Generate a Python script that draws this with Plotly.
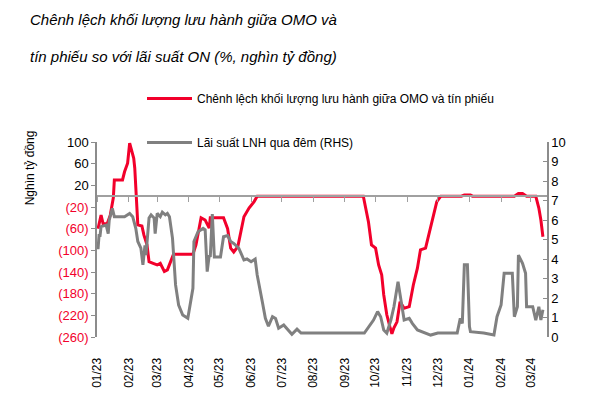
import plotly.graph_objects as go

# ---- data ----
red_dates = ["2023-01-02", "2023-01-05", "2023-01-07", "2023-01-11", "2023-01-14", "2023-01-17",
             "2023-01-18", "2023-01-26", "2023-01-28", "2023-01-31", "2023-02-02", "2023-02-06",
             "2023-02-07", "2023-02-10", "2023-02-14", "2023-02-16", "2023-02-19", "2023-02-21",
             "2023-02-25", "2023-03-01", "2023-03-04", "2023-03-08", "2023-03-11", "2023-03-14",
             "2023-03-17", "2023-04-05", "2023-04-08", "2023-04-13", "2023-04-17", "2023-04-21",
             "2023-04-22", "2023-05-05", "2023-05-09", "2023-05-12", "2023-05-15", "2023-05-19",
             "2023-05-22", "2023-05-25", "2023-05-30", "2023-06-04", "2023-06-07", "2023-09-19",
             "2023-09-21", "2023-09-24", "2023-09-27", "2023-10-01", "2023-10-04", "2023-10-07",
             "2023-10-09", "2023-10-12", "2023-10-15", "2023-10-17", "2023-10-19", "2023-10-22",
             "2023-10-25", "2023-10-29", "2023-11-03", "2023-11-07", "2023-11-11", "2023-11-14",
             "2023-11-19", "2023-11-22", "2023-11-27", "2023-11-30", "2023-12-04", "2023-12-24",
             "2023-12-27", "2024-01-02", "2024-01-04", "2024-02-14", "2024-02-18", "2024-02-22",
             "2024-02-26", "2024-03-06", "2024-03-09", "2024-03-11", "2024-03-13"]
red_values = [-60, -35, -51, -51, -35, -3,
              30, 30, 45, 61, 98, 70,
              52, -53, -55, -72, -90, -121,
              -124, -127, -124, -139, -136, -121,
              -107, -107, -90, -40, -44, -59,
              -40, -40, -60, -96, -103, -93,
              -68, -38, -22, -10, 0, 0,
              -19, -47, -90, -96, -127, -145,
              -182, -219, -241, -254, -243, -232,
              -195, -207, -204, -164, -133, -99,
              -96, -72, -35, -10, 0, 0,
              2, 2, 0, 0, 5, 5,
              0, 0, -22, -44, -75]

gray_dates = ["2023-01-02", "2023-01-03", "2023-01-04", "2023-01-05", "2023-01-10", "2023-01-12",
              "2023-01-13", "2023-01-16", "2023-01-18", "2023-01-28", "2023-02-02", "2023-02-05",
              "2023-02-08", "2023-02-10", "2023-02-13", "2023-02-15", "2023-02-17", "2023-02-18",
              "2023-02-21", "2023-02-23", "2023-02-26", "2023-02-27", "2023-03-01", "2023-03-04",
              "2023-03-06", "2023-03-09", "2023-03-11", "2023-03-13", "2023-03-16", "2023-03-19",
              "2023-03-22", "2023-03-26", "2023-03-31", "2023-04-05", "2023-04-06", "2023-04-10",
              "2023-04-15", "2023-04-17", "2023-04-19", "2023-04-21", "2023-04-22", "2023-04-24",
              "2023-04-26", "2023-05-02", "2023-05-05", "2023-05-09", "2023-05-12", "2023-05-15",
              "2023-05-20", "2023-05-25", "2023-05-28", "2023-06-01", "2023-06-05", "2023-06-07",
              "2023-06-12", "2023-06-15", "2023-06-18", "2023-06-22", "2023-06-25", "2023-06-28",
              "2023-07-03", "2023-07-07", "2023-07-11", "2023-07-16", "2023-07-20", "2023-09-20",
              "2023-09-29", "2023-10-03", "2023-10-06", "2023-10-09", "2023-10-12", "2023-10-16",
              "2023-10-19", "2023-10-23", "2023-10-26", "2023-10-29", "2023-11-03", "2023-11-06",
              "2023-11-11", "2023-11-18", "2023-11-24", "2023-12-01", "2023-12-20", "2023-12-23",
              "2023-12-25", "2023-12-27", "2023-12-30", "2024-01-01", "2024-01-02", "2024-01-15",
              "2024-01-25", "2024-01-28", "2024-02-01", "2024-02-04", "2024-02-12", "2024-02-14",
              "2024-02-17", "2024-02-18", "2024-02-22", "2024-02-25", "2024-02-26", "2024-03-03",
              "2024-03-06", "2024-03-09", "2024-03-11", "2024-03-13"]
gray_values = [4.5, 5.2, 5.2, 5.66, 5.74, 5.3,
               6.0, 6.6, 6.17, 6.17, 6.34, 6.17,
               5.57, 4.9, 4.56, 3.7, 4.7, 4.2,
               6.1, 6.26, 6.1, 5.3, 6.34, 6.17,
               6.4, 6.26, 6.34, 6.17, 5.06, 2.67,
               1.64, 1.13, 0.96, 2.5, 4.9, 5.4,
               5.57, 5.5, 3.35, 4.2, 4.1, 6.3,
               4.1, 4.1, 5.14, 5.2, 4.9, 4.8,
               4.55, 3.95, 4.0, 3.86, 4.0, 3.18,
               1.81, 0.96, 0.55, 1.04, 0.95, 0.45,
               0.62, 0.36, 0.14, 0.4, 0.2, 0.2,
               0.87, 1.3, 1.04, 0.36, 0.2, 0.87,
               1.55, 2.84, 1.9, 0.87, 0.96, 0.7,
               0.36, 0.2, 0.1, 0.2, 0.2, 0.96,
               0.7, 3.7, 3.7, 0.53, 0.27, 0.2,
               0.1, 1.04, 1.64, 3.27, 3.27, 1.04,
               1.55, 4.2, 3.78, 3.27, 1.55, 1.55,
               0.87, 1.55, 0.87, 1.4]

month_ticks = ["2023-01-01", "2023-02-01", "2023-03-01", "2023-04-01", "2023-05-01", "2023-06-01",
               "2023-07-01", "2023-08-01", "2023-09-01", "2023-10-01", "2023-11-01", "2023-12-01",
               "2024-01-01", "2024-02-01", "2024-03-01"]
month_labels = ["01/23", "02/23", "03/23", "04/23", "05/23", "06/23", "07/23", "08/23",
                "09/23", "10/23", "11/23", "12/23", "01/24", "02/24", "03/24"]

left_ticks = [100, 60, 20, -20, -60, -100, -140, -180, -220, -260]
left_labels = ["100", "60", "20", "(20)", "(60)", "(100)", "(140)", "(180)", "(220)", "(260)"]
right_ticks = [0, 1, 2, 3, 4, 5, 6, 7, 8, 9, 10]

x_range = ["2023-01-01", "2024-03-17"]

name_red = "Chênh lệch khối lượng lưu hành giữa OMO và tín phiếu"
name_gray = "Lãi suất LNH qua đêm (RHS)"
title_1 = "Chênh lệch khối lượng lưu hành giữa OMO và"
title_2 = "tín phiếu so với lãi suất ON (%, nghìn tỷ đồng)"
y_title = "Nghìn tỷ đồng"

RED = "#F2002B"
GRAY = "#808080"
AXIS = "#8C8C8C"
FONT = "Liberation Sans, Arial, sans-serif"
TITLE_FONT = "Liberation Sans Narrow, Arial Narrow, Liberation Sans, sans-serif"

left_text = [
    (f"<span style='color:{RED}'>{t}</span>" if v < 0 else t)
    for v, t in zip(left_ticks, left_labels)
]

fig = go.Figure()
fig.add_trace(go.Scatter(x=red_dates, y=red_values, name=name_red, mode="lines",
                         line=dict(color=RED, width=3), legendgroup="a",
                         xaxis="x", yaxis="y"))
fig.add_trace(go.Scatter(x=gray_dates, y=gray_values, name=name_gray, mode="lines",
                         line=dict(color=GRAY, width=3), legendgroup="b",
                         xaxis="x", yaxis="y2"))
# invisible helper so the zero-level axis (ticks on the zero line) is drawn
fig.add_trace(go.Scatter(x=x_range, y=[None, None], mode="lines", showlegend=False,
                         hoverinfo="skip", xaxis="x2", yaxis="y"))

fig.update_layout(
    width=589, height=395,
    margin=dict(l=97, r=42, t=142, b=58, autoexpand=False),
    paper_bgcolor="white", plot_bgcolor="white",
    font=dict(family=FONT, size=13, color="black"),
    showlegend=True,
    legend=dict(x=0.1, y=1.297, xanchor="left", yanchor="top",
                bgcolor="rgba(0,0,0,0)", font=dict(size=12), itemwidth=45,
                tracegroupgap=25, traceorder="grouped"),
    xaxis=dict(type="date", range=x_range, tickvals=month_ticks, ticktext=month_labels,
               tickangle=-90, showline=False, ticks="outside", ticklen=15,
               tickcolor="rgba(0,0,0,0)", showgrid=False, zeroline=False,
               tickfont=dict(size=12), automargin=False),
    xaxis2=dict(type="date", range=x_range, overlaying="x", anchor="free",
                position=260 / 360, side="bottom", tickvals=month_ticks,
                showticklabels=False, showline=True, linecolor="#A0A0A0", linewidth=1.5,
                ticks="outside", ticklen=5, tickcolor="#A0A0A0", showgrid=False,
                zeroline=False),
    yaxis=dict(range=[-260, 100], tickvals=left_ticks, ticktext=left_text,
               showline=True, linecolor=AXIS, linewidth=1.5, ticks="outside",
               ticklen=4, tickcolor=AXIS, showgrid=False, zeroline=False,
               tickfont=dict(size=13), automargin=False),
    yaxis2=dict(range=[0, 10], tickvals=right_ticks, overlaying="y", side="right",
                showline=True, linecolor=AXIS, linewidth=1.5, ticks="inside",
                ticklen=4, tickcolor=AXIS, showgrid=False, zeroline=False,
                tickfont=dict(size=13), automargin=False),
)

fig.add_annotation(text=title_1, xref="paper", yref="paper", x=-0.153, y=1.626,
                   xanchor="left", yanchor="middle", showarrow=False,
                   font=dict(family=TITLE_FONT, size=15, style="italic", color="black"))
fig.add_annotation(text=title_2, xref="paper", yref="paper", x=-0.153, y=1.436,
                   xanchor="left", yanchor="middle", showarrow=False,
                   font=dict(family=TITLE_FONT, size=15, style="italic", color="black"))
fig.add_annotation(text=y_title, xref="paper", yref="paper", x=-0.149, y=0.87,
                   xanchor="center", yanchor="middle", textangle=-90, showarrow=False,
                   font=dict(size=12, color="black"))

fig.write_html("out.html", config={"displayModeBar": False},
               post_script="document.body.style.margin='0';"
                           "document.body.style.overflow='hidden';")
